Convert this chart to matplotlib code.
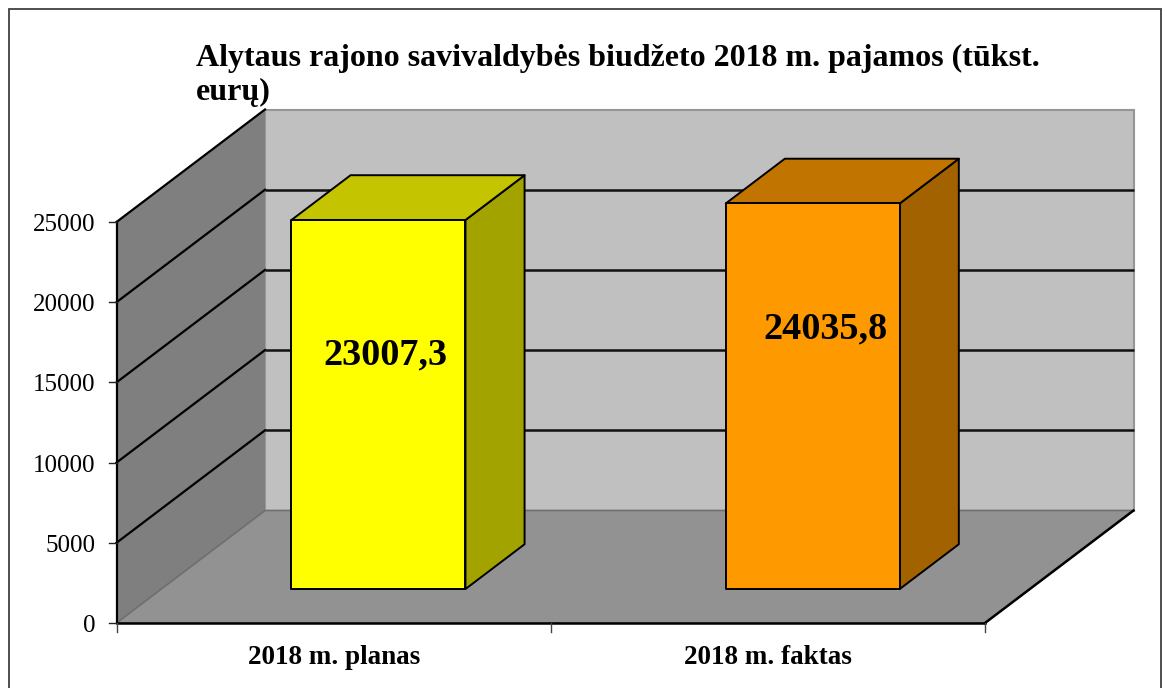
import matplotlib
matplotlib.use("Agg")
import matplotlib.pyplot as plt
from matplotlib.patches import Polygon, Rectangle

plt.rcParams["font.family"] = ["Liberation Serif", "DejaVu Serif"]

categories = ["2018 m. planas", "2018 m. faktas"]
values = [23007.3, 24035.8]
value_labels = ["23007,3", "24035,8"]
yticks = [0, 5000, 10000, 15000, 20000, 25000]
title = "Alytaus rajono savivaldybės biudžeto 2018 m. pajamos (tūkst.\neurų)"

front_colors = ["#FFFF00", "#FF9900"]
top_colors = ["#C4C400", "#C27400"]
side_colors = ["#A3A300", "#A36200"]

W, H = 1168, 688
x0_px, cat_px = 116.5, 434.25
y0_px, ymax_px = 623.0, 222.0
ymax = 25000
val_px = (y0_px - ymax_px) / ymax

# oblique depth of the plot box, in data units
depth_x = 148.5 / cat_px
depth_y = 112.5 / val_px
bar_d0, bar_d1 = 0.302, 0.70
bar_w = 174.0 / cat_px
n = len(categories)


def proj(x, y, d=0.0):
    return (x + d * depth_x, y + d * depth_y)


fig = plt.figure(figsize=(W / 100, H / 100), dpi=100)
ax = fig.add_axes([0, 0, 1, 1])
ax.set_xlim(-x0_px / cat_px, (W - x0_px) / cat_px)
ax.set_ylim(-(H - y0_px) / val_px, y0_px / val_px)
ax.axis("off")

# outer frame
ax.add_patch(Rectangle((9 / W, -0.05), (1161 - 9) / W, 1.05 - 8.5 / H,
                       transform=ax.transAxes, fc="white", ec="#404040", lw=1.3, zorder=0))

# walls and floor
ax.add_patch(Polygon([proj(0, 0, 1), proj(n, 0, 1), proj(n, ymax, 1), proj(0, ymax, 1)],
                     fc="#C0C0C0", ec="#969696", lw=1.5, zorder=1))
ax.add_patch(Polygon([proj(0, 0), proj(0, 0, 1), proj(0, ymax, 1), proj(0, ymax)],
                     fc="#7F7F7F", ec="none", zorder=2))
ax.add_patch(Polygon([proj(0, 0), proj(n, 0), proj(n, 0, 1), proj(0, 0, 1)],
                     fc="#929292", ec="#6E6E6E", lw=1.2, zorder=2))

# gridlines along side wall and back wall
for v in yticks[1:]:
    a, b, c = proj(0, v), proj(0, v, 1), proj(n, v, 1)
    ax.plot([a[0], b[0]], [a[1], b[1]], color="black", lw=1.6, zorder=3)
    if v < ymax:
        ax.plot([b[0], c[0]], [b[1], c[1]], color="#111111", lw=1.8, zorder=3,
                solid_capstyle="butt")

# axis lines and ticks
a, b = proj(n, 0), proj(n, 0, 1)
ax.plot([a[0], b[0]], [a[1], b[1]], color="black", lw=1.8, zorder=3)
ax.plot([0, n], [0, 0], color="black", lw=1.8, zorder=3)
ax.plot([0, 0], [0, ymax], color="black", lw=1.6, zorder=3)
for v in yticks:
    ax.plot([-8 / cat_px, 0], [v, v], color="#222222", lw=1, zorder=3)
    ax.text(-21 / cat_px, v - 3 / val_px, str(v), ha="right", va="center", fontsize=18, color="black")
for i in range(n + 1):
    ax.plot([i, i], [0, -9 / val_px], color="#444444", lw=1, zorder=3)

# bars
label_frac = [0.635, 0.675]
label_dx = [7 / cat_px, 13 / cat_px]
for i, v in enumerate(values):
    left = i + (1 - bar_w) / 2
    right = left + bar_w
    front = [proj(left, 0, bar_d0), proj(right, 0, bar_d0), proj(right, v, bar_d0), proj(left, v, bar_d0)]
    side = [proj(right, 0, bar_d0), proj(right, 0, bar_d1), proj(right, v, bar_d1), proj(right, v, bar_d0)]
    top = [proj(left, v, bar_d0), proj(right, v, bar_d0), proj(right, v, bar_d1), proj(left, v, bar_d1)]
    ax.add_patch(Polygon(side, fc=side_colors[i], ec="black", lw=1.4, zorder=4, joinstyle="round"))
    ax.add_patch(Polygon(top, fc=top_colors[i], ec="black", lw=1.4, zorder=4, joinstyle="round"))
    ax.add_patch(Polygon(front, fc=front_colors[i], ec="black", lw=1.4, zorder=5, joinstyle="round"))
    lx, ly = proj((left + right) / 2 + label_dx[i], v * label_frac[i], bar_d0)
    ax.text(lx, ly, value_labels[i], ha="center", va="center", fontsize=27.5,
            fontweight="bold", color="black", zorder=6)
    ax.text(i + 0.5, -34 / val_px, categories[i], ha="center", va="center", fontsize=19.5,
            fontweight="bold", color="black")

fig.text(196 / W, 1 - 44 / H, title, ha="left", va="top", fontsize=23, fontweight="bold",
         color="black", linespacing=1.2)

fig.savefig("out.png", dpi=100, facecolor="white")
